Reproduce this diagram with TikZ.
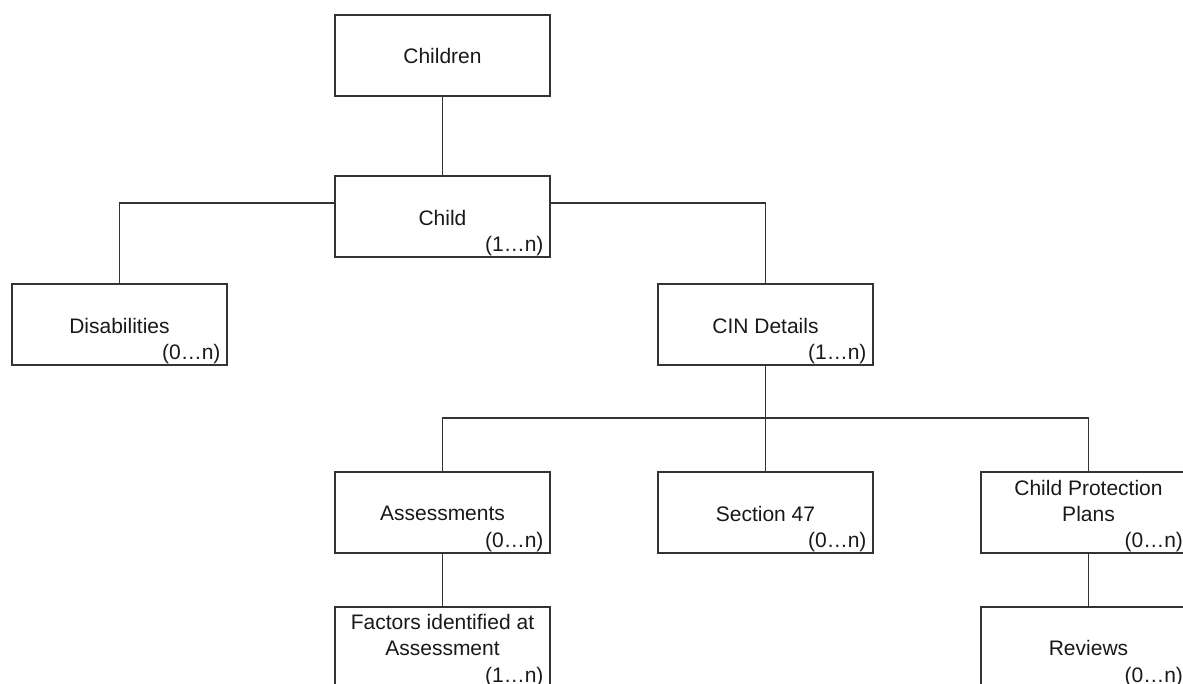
\documentclass[tikz,border=0pt]{standalone}
\usepackage{fontspec}
\setmainfont{Liberation Sans}
\begin{document}
\begin{tikzpicture}[x=1pt,y=-1pt,
  entity/.style={draw=black!80,line width=1.3pt,minimum width=215pt,minimum height=81pt,inner sep=0pt},
  lbl/.style={inner sep=0pt,align=center,font=\fontsize{21}{26.5}\selectfont,text=black!90},
  card/.style={inner sep=0pt,anchor=east,font=\fontsize{21}{26.5}\selectfont,text=black!90},
  conn/.style={draw=black!80,line width=1.3pt}]
\useasboundingbox[fill=white] (0,0) rectangle (1183,683);
% boxes
\node[entity] (children) at (442.5,55.5) {};
\node[entity] (child) at (442.5,216.5) {};
\node[entity] (dis) at (119.5,324.5) {};
\node[entity] (cin) at (765.5,324.5) {};
\node[entity] (ass) at (442.5,512.5) {};
\node[entity] (sec) at (765.5,512.5) {};
\node[entity] (cpp) at (1088.5,512.5) {};
\node[entity] (fac) at (442.5,647.5) {};
\node[entity] (rev) at (1088.5,647.5) {};
% main labels
\node[lbl] (children-t) at ([yshift=-0.5pt]children.center) {Children};
\node[lbl] (child-t) at ([yshift=-1pt]child.center) {Child};
\node[lbl] (dis-t) at ([yshift=-1pt]dis.center) {Disabilities};
\node[lbl] (cin-t) at ([yshift=-1pt]cin.center) {CIN Details};
\node[lbl] (ass-t) at ([yshift=-1pt]ass.center) {Assessments};
\node[lbl] (sec-t) at ([yshift=-1pt]sec.center) {Section 47};
\node[lbl] (cpp-t) at ([yshift=11.5pt]cpp.center) {Child Protection\\Plans};
\node[lbl] (fac-t) at ([yshift=12.5pt]fac.center) {Factors identified at\\Assessment};
\node[lbl] (rev-t) at ([yshift=-0.5pt]rev.center) {Reviews};
% cardinalities
\node[card] (child-c) at ([shift={(-7pt,12pt)}]child.south east) {(1…n)};
\node[card] (dis-c) at ([shift={(-7pt,12pt)}]dis.south east) {(0…n)};
\node[card] (cin-c) at ([shift={(-7pt,12pt)}]cin.south east) {(1…n)};
\node[card] (ass-c) at ([shift={(-7pt,12pt)}]ass.south east) {(0…n)};
\node[card] (sec-c) at ([shift={(-7pt,12pt)}]sec.south east) {(0…n)};
\node[card] (cpp-c) at ([shift={(-13.5pt,12pt)}]cpp.south east) {(0…n)};
\node[card] (fac-c) at ([shift={(-7pt,12pt)}]fac.south east) {(1…n)};
\node[card] (rev-c) at ([shift={(-13.5pt,12pt)}]rev.south east) {(0…n)};
% connectors
\draw[conn] (children.south) -- (child.north);
\draw[conn] ([yshift=13.5pt]child.west) -| (dis.north);
\draw[conn] ([yshift=13.5pt]child.east) -| (cin.north);
\draw[conn] (cin.south) -- (sec.north);
\coordinate (bus) at (765.5,418);
\draw[conn] (ass.north) |- (bus) -| (cpp.north);
\draw[conn] (ass.south) -- (fac.north);
\draw[conn] (cpp.south) -- (rev.north);
\end{tikzpicture}
\end{document}
